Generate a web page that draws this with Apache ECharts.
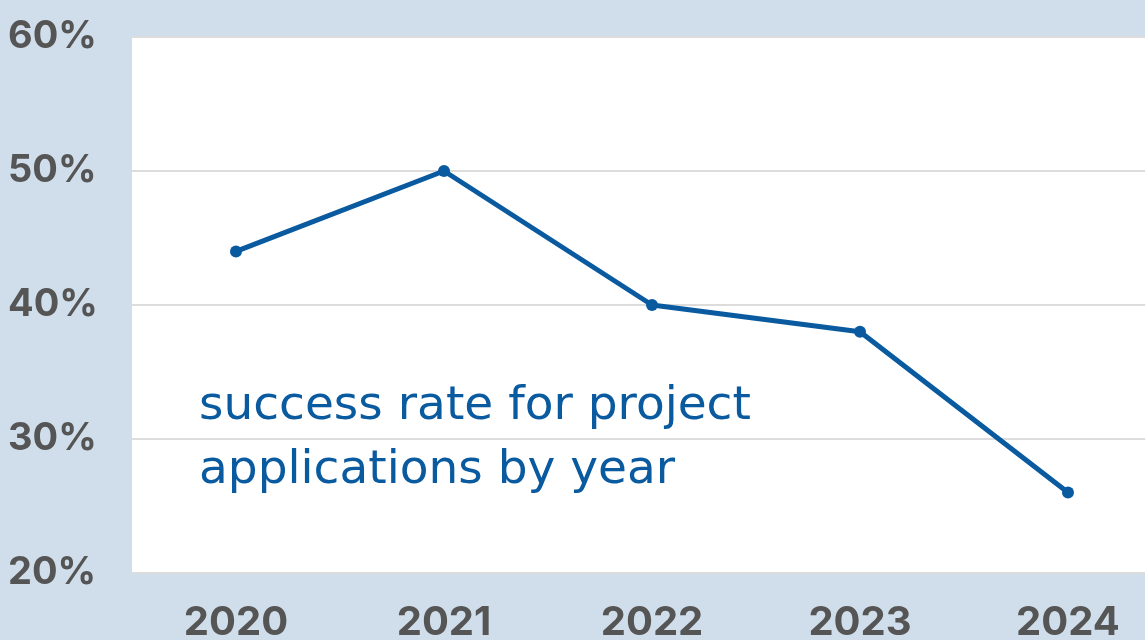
<!DOCTYPE html>
<html><head><meta charset="utf-8">
<script src="https://cdn.jsdelivr.net/npm/echarts@6/dist/echarts.min.js"></script>
<style>html,body{margin:0;padding:0;background:#cfdeea;}#c{width:1145px;height:640px;}</style>
</head><body><div id="c"></div>
<script>
const years = ['2020','2021','2022','2023','2024'];
const successRate = [44, 50, 40, 38, 26];
const yTicks = [20, 30, 40, 50, 60];
const annotation = ['success rate for project', 'applications by year'];

const chart = echarts.init(document.getElementById('c'));
chart.setOption({
  backgroundColor: '#cfdeea',
  animation: false,
  grid: { left: 132, top: 37, bottom: 67, right: -27, show: true, backgroundColor: '#ffffff', borderWidth: 0, containLabel: false, outerBoundsMode: 'none' },
  xAxis: {
    type: 'category', data: years, boundaryGap: true,
    axisLine: { show: false }, axisTick: { show: false },
    axisLabel: { color: '#555555', fontFamily: 'Inter', fontWeight: 'bold', fontSize: 40, margin: 30, verticalAlign: 'top' }
  },
  yAxis: {
    type: 'value', min: yTicks[0], max: yTicks[yTicks.length-1], interval: 10,
    axisLine: { show: false }, axisTick: { show: false },
    splitLine: { lineStyle: { color: '#dcdcdc', width: 2 } },
    axisLabel: { color: '#555555', fontFamily: 'Inter', fontWeight: 'bold', fontSize: 38, align: 'left', margin: 124, formatter: v => v + '%' }
  },
  series: [{
    type: 'line', data: successRate,
    lineStyle: { color: '#0a5aa0', width: 5 },
    itemStyle: { color: '#0a5aa0' },
    symbol: 'circle', symbolSize: 12
  }],
  graphic: [{
    type: 'text', left: 199, top: 375,
    style: { text: annotation.join('\n'), fill: '#0a5aa0', font: '47px "DejaVu Sans"', lineHeight: 64 }
  }]
});
</script></body></html>
